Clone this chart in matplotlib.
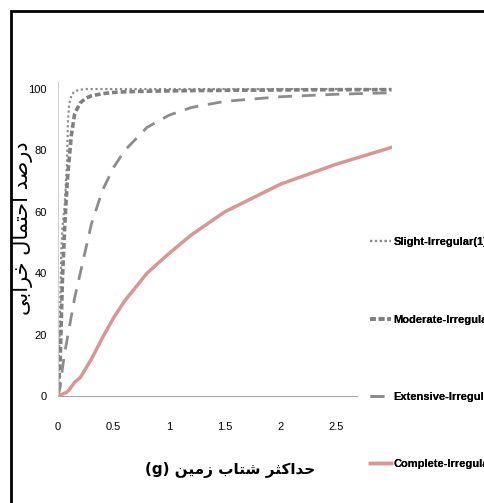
import matplotlib.pyplot as plt
from matplotlib.patches import Rectangle

# PGA (g) sample points
pga = [0, 0.02, 0.03, 0.04, 0.06, 0.08, 0.09, 0.1, 0.12, 0.15, 0.2, 0.25, 0.3, 0.4,
       0.5, 0.6, 0.8, 1.0, 1.2, 1.5, 2.0, 2.5, 3.0]

slight = [0, 30, 47, 55, 62, 75, 90, 95, 98, 99.3, 99.8, 100, 100, 100,
          100, 100, 100, 100, 100, 100, 100, 100, 100]
moderate = [0, 12, 25, 38, 55, 68, 73, 77, 85, 92, 95.5, 97, 97.8, 98.5,
            98.9, 99.1, 99.3, 99.4, 99.5, 99.6, 99.7, 99.8, 99.8]
extensive = [0, 3, 6, 9, 14, 18, 20, 22, 26, 32, 40, 48, 56, 67,
             74.5, 80, 87.5, 91.5, 94, 96, 97.5, 98.3, 98.8]
complete = [0, 0.2, 0.4, 0.6, 0.9, 1.3, 1.6, 2, 3, 4.5, 6, 9, 12, 19,
            25.5, 31, 40, 46.5, 52.5, 60, 69, 75.5, 81]

labels = ["Slight-Irregular(1)", "Moderate-Irregular(1)",
          "Extensive-Irregular(1)", "Complete-Irregular(1)"]
xticks = [0, 0.5, 1, 1.5, 2, 2.5]
yticks = [0, 20, 40, 60, 80, 100]

# Persian labels written in presentation forms (logical order), reversed for display
ylabel_fa = "\uFEA9\uFEAD\uFEBB\uFEAA \uFE8D\uFEA3\uFE98\uFEE4\uFE8E\uFEDD \uFEA7\uFEAE\uFE8D\uFE91\uFEF0"
xlabel_fa = "\uFEA3\uFEAA\uFE8D\uFB90\uFE9C\uFEAE \uFEB7\uFE98\uFE8E\uFE8F \uFEAF\uFEE3\uFEF4\uFEE6"

tick_font = dict(family="Liberation Sans", fontsize=8)

fig = plt.figure(figsize=(4.84, 5.03), dpi=100)
W, H = 484, 503
ax = fig.add_axes([58 / W, 1 - 396 / H, 333.6 / W, (396 - 82) / H])

l1, = ax.plot(pga, slight, color="#8c8c8c", lw=1.6, ls=(0, (1, 1.2)))
l2, = ax.plot(pga, moderate, color="#808080", lw=2.6, ls=(0, (1.6, 0.8)))
l3, = ax.plot(pga, extensive, color="#8c8c8c", lw=2.0, ls=(0, (5, 3.5)))
l4, = ax.plot(pga, complete, color="#d99694", lw=2.5)

ax.set_xlim(0, 3)
ax.set_ylim(0, 102.3)
ax.set_xticks(xticks)
ax.set_xticklabels([f"{t:g}" for t in xticks], **tick_font)
ax.set_yticks(yticks)
ax.set_yticklabels([str(t) for t in yticks], **tick_font)
ax.tick_params(length=0)
ax.tick_params(axis="x", pad=19)
ax.tick_params(axis="y", pad=8)

for s in ["top", "right"]:
    ax.spines[s].set_visible(False)
ax.spines["left"].set_color("#d0d0d0")
ax.spines["bottom"].set_color("#a6a6a6")
ax.spines["bottom"].set_bounds(0, 2.69)

fig.text(23 / W, 1 - 228 / H, ylabel_fa[::-1], rotation=90,
         ha="center", va="center", fontsize=15, family=["DejaVu Sans"])
fig.text(230 / W, 1 - 470 / H, "(g) " + xlabel_fa[::-1], ha="center", va="center",
         fontsize=11, fontweight="bold", family=["DejaVu Sans"])

# one legend per entry, placed like the spread-out reference legend
leg_y = [242, 320, 397, 464]
for line, lab, y in zip([l1, l2, l3, l4], labels, leg_y):
    leg = fig.legend([line], [lab], loc="center left",
                     bbox_to_anchor=(370 / W, 1 - y / H), frameon=False,
                     handlelength=1.9, handletextpad=0.2, borderaxespad=0,
                     borderpad=0,
                     prop={"family": "Liberation Sans", "size": 8, "weight": "bold"})
    fig.add_artist(leg)

fig.patches.append(Rectangle((11 / W, -0.1), 1.2, 1 - 11 / H + 0.1,
                             transform=fig.transFigure, fill=False,
                             edgecolor="black", lw=2))

fig.savefig("out.png", dpi=100)
